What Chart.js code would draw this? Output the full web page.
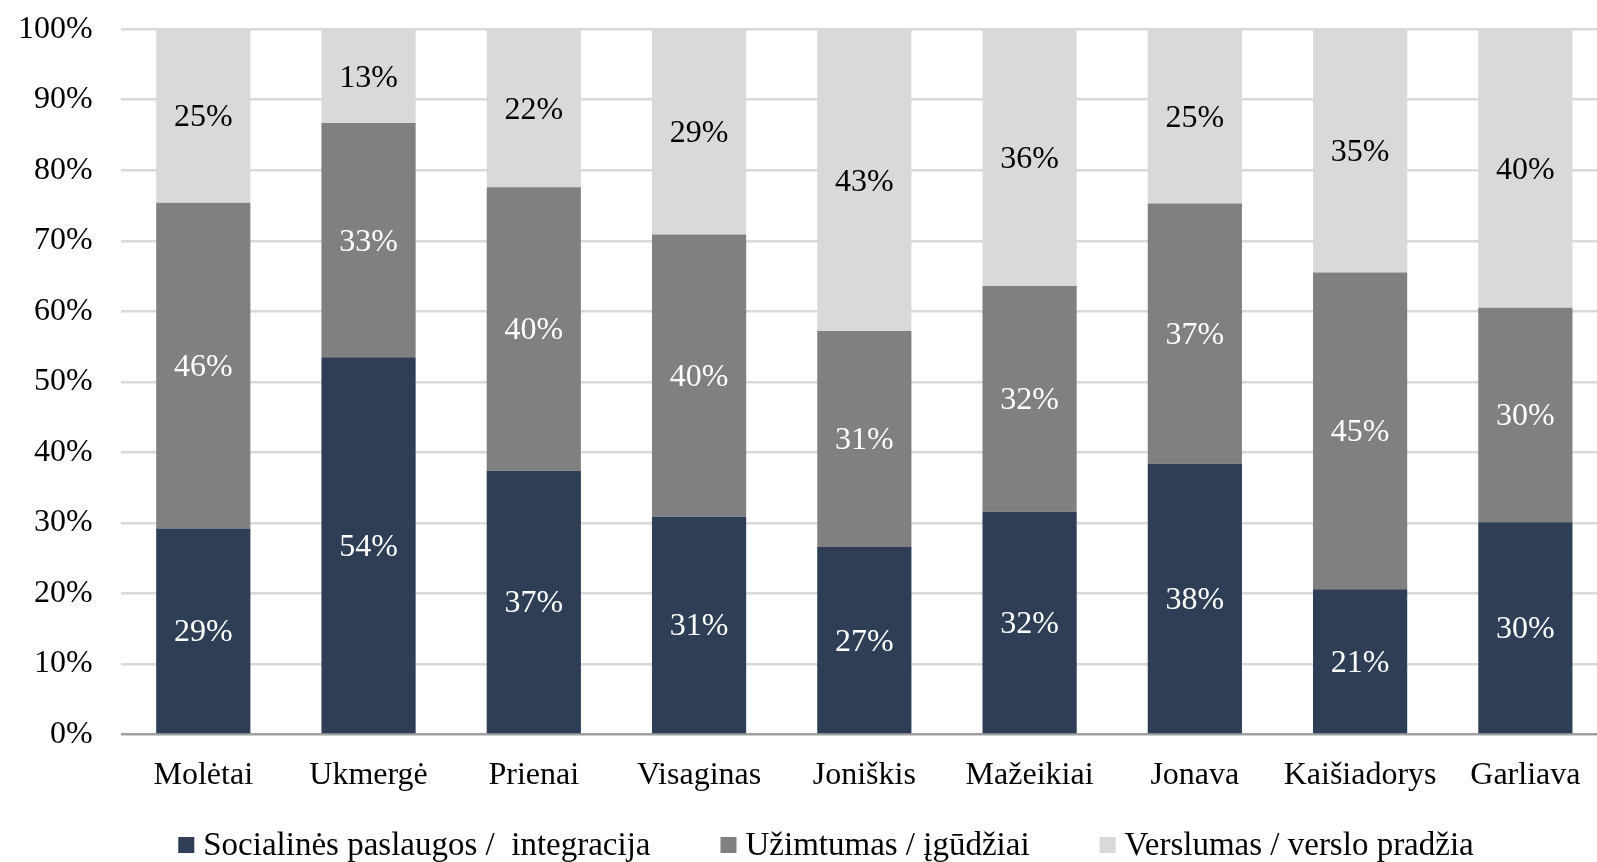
<!DOCTYPE html>
<html>
<head>
<meta charset="utf-8">
<script src="https://cdn.jsdelivr.net/npm/chart.js@4"></script>
<style>
  html, body { margin: 0; padding: 0; background: #fff; overflow: hidden; width: 1597px; height: 862px; }
  #wrap { position: absolute; left: -10px; top: -18px; width: 1620px; height: 880px; }
</style>
</head>
<body>
<div id="wrap"><canvas id="chart"></canvas></div>
<script>
// Categories and series (share of each bar, %)
const categories = ['Molėtai', 'Ukmergė', 'Prienai', 'Visaginas', 'Joniškis', 'Mažeikiai', 'Jonava', 'Kaišiadorys', 'Garliava'];
const socialServices = [29.2, 53.5, 37.4, 30.9, 26.6, 31.6, 38.4, 20.6, 30.1];
const employment = [46.2, 33.2, 40.2, 40.0, 30.6, 32.0, 36.9, 44.9, 30.4];
const entrepreneurship = [24.6, 13.3, 22.4, 29.1, 42.8, 36.4, 24.7, 34.5, 39.5];
const yTicks = [0, 10, 20, 30, 40, 50, 60, 70, 80, 90, 100];

const seriesNames = ['Socialinės paslaugos /  integracija', 'Užimtumas / įgūdžiai', 'Verslumas / verslo pradžia'];
const seriesColors = ['#2E3E56', '#808080', '#D9D9D9'];
const labelColors = ['#ffffff', '#ffffff', '#000000'];

const FONT = '"Liberation Serif", "Times New Roman", serif';
const FSIZE = 32;

// Draw the percentage labels in the middle of each segment
const segmentLabels = {
    id: 'segmentLabels',
    afterDatasetsDraw(chart) {
        const ctx = chart.ctx;
        ctx.save();
        ctx.font = FSIZE + 'px ' + FONT;
        ctx.textAlign = 'center';
        ctx.textBaseline = 'middle';
        chart.data.datasets.forEach(function(ds, i) {
            const meta = chart.getDatasetMeta(i);
            meta.data.forEach(function(bar, j) {
                const v = ds.data[j];
                const y = (bar.y + bar.base) / 2;
                ctx.fillStyle = labelColors[i];
                ctx.fillText(Math.round(v) + '%', bar.x, y + 2);
            });
        });
        ctx.restore();
    }
};

// Legend row along the bottom, spaced like the original
const bottomLegend = {
    id: 'bottomLegend',
    afterDraw(chart) {
        const ctx = chart.ctx;
        const box = 16, gapText = 9, gapItem = 70;
        ctx.save();
        ctx.font = '33px ' + FONT;
        ctx.textBaseline = 'middle';
        ctx.textAlign = 'left';
        const items = chart.data.datasets.map(function(ds) {
            return { text: ds.label, color: ds.backgroundColor, w: ctx.measureText(ds.label).width };
        });
        let total = 0;
        items.forEach(function(it, i) { total += box + gapText + it.w + (i ? gapItem : 0); });
        let x = 836 - total / 2;
        const y = chart.height - 17;
        items.forEach(function(it) {
            ctx.fillStyle = it.color;
            ctx.fillRect(x, y - box / 2, box, box);
            ctx.fillStyle = '#000';
            ctx.fillText(it.text, x + box + gapText, y + 1);
            x += box + gapText + it.w + gapItem;
        });
        ctx.restore();
    }
};

const ctx = document.getElementById('chart').getContext('2d');

new Chart(ctx, {
    type: 'bar',
    data: {
        labels: categories,
        datasets: [
            { label: seriesNames[0], data: socialServices, backgroundColor: seriesColors[0] },
            { label: seriesNames[1], data: employment, backgroundColor: seriesColors[1] },
            { label: seriesNames[2], data: entrepreneurship, backgroundColor: seriesColors[2] }
        ]
    },
    options: {
        responsive: true,
        maintainAspectRatio: false,
        animation: false,
        layout: {
            padding: { left: 0, right: 2, top: 0, bottom: 49 }
        },
        datasets: {
            bar: { barPercentage: 0.57, categoryPercentage: 1.0 }
        },
        plugins: {
            tooltip: { enabled: false },
            legend: { display: false }
        },
        scales: {
            x: {
                stacked: true,
                grid: { display: false },
                border: { display: false },
                afterFit: function(axis) { axis.height += 4; },
                ticks: {
                    color: '#000',
                    font: { family: FONT, size: FSIZE },
                    padding: 14,
                    maxRotation: 0,
                    autoSkip: false
                }
            },
            y: {
                stacked: true,
                min: 0,
                max: 100,
                afterBuildTicks: function(axis) {
                    axis.ticks = yTicks.map(function(v) { return { value: v }; });
                },
                grid: {
                    drawTicks: false,
                    lineWidth: 2.5,
                    color: function(c) { return c.tick && c.tick.value === 0 ? '#A0A0A0' : '#D9D9D9'; }
                },
                border: { display: false },
                ticks: {
                    color: '#000',
                    font: { family: FONT, size: FSIZE },
                    padding: 28,
                    callback: function(v) { return v + '%'; }
                }
            }
        }
    },
    plugins: [segmentLabels, bottomLegend]
});
</script>
</body>
</html>
